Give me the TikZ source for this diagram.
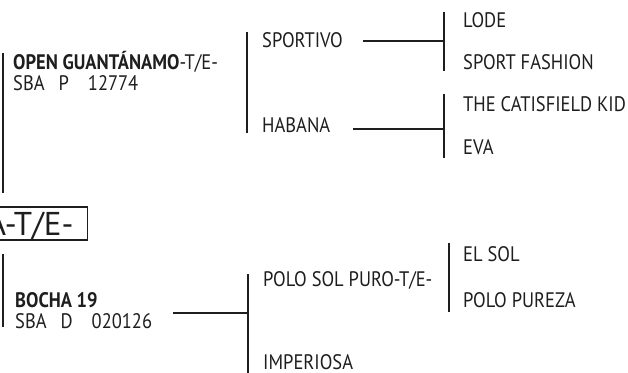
\documentclass[tikz,border=0pt]{standalone}
\usepackage{fontspec}
\setmainfont{PT Sans}[FakeStretch=0.88]
\newfontfamily\rootfont{PT Sans}
\definecolor{ink}{HTML}{1E1E1E}
\tikzset{
  ln/.style={draw=ink, line width=1.1pt},
  lbl/.style={anchor=base west, inner sep=0pt, text=ink, font=\fontsize{21}{23}\selectfont},
  lblb/.style={lbl, font=\fontsize{21}{23}\selectfont\bfseries},
  rootbox/.style={draw=ink, line width=1.1pt, anchor=base east, inner xsep=0pt, inner ysep=5pt,
    text height=23pt, text depth=0pt, text=ink, font=\rootfont\fontsize{33}{36}\selectfont}
}
\begin{document}
\begin{tikzpicture}[x=1pt,y=-1pt]
\useasboundingbox (0,0) rectangle (628,372);
% root
\node[rootbox] (root) at (88,235) {\hspace*{20pt}A-T/E-\hspace*{14pt}};
% upper branch
\node[lblb] (og) at (13,69.5) {OPEN GUANTÁNAMO\mdseries-T/E-};
\node[lbl] (ogid) at (13,90.7) {SBA\hspace{14pt}P\hspace{19pt}12774};
\node[lbl] (sportivo) at (262,47) {SPORTIVO};
\node[lbl] (habana) at (262,132) {HABANA};
\node[lbl] (lode) at (463,27) {LODE};
\node[lbl] (sportfashion) at (463,69) {SPORT FASHION};
\node[lbl] (catisfield) at (463,111) {THE CATISFIELD KID};
\node[lbl] (eva) at (463,154) {EVA};
% lower branch
\node[lblb] (bocha) at (15,307) {BOCHA 19};
\node[lbl] (bochaid) at (15,328) {SBA\hspace{14pt}D\hspace{19pt}020126};
\node[lbl] (polosol) at (263,286) {POLO SOL PURO-T/E-};
\node[lbl] (imperiosa) at (263,369) {IMPERIOSA};
\node[lbl] (elsol) at (463,261) {EL SOL};
\node[lbl] (polopureza) at (463,307) {POLO PUREZA};
% connector end points
\coordinate (rU1) at (3,53);   \coordinate (rU2) at (3,193);
\coordinate (rL1) at (3,254);  \coordinate (rL2) at (3,327);
\coordinate (ogT) at (247,32); \coordinate (ogB) at (247,133);
\coordinate (spS) at (363,41); \coordinate (spE) at (444,41);
\coordinate (spT) at (444,12); \coordinate (spB) at (444,71);
\coordinate (haS) at (353,129); \coordinate (haE) at (444,129);
\coordinate (haT) at (444,94); \coordinate (haB) at (444,158);
\coordinate (boS) at (173,313); \coordinate (boE) at (248,313);
\coordinate (boT) at (248,274); \coordinate (boB) at (248,373);
\coordinate (psT) at (449,243); \coordinate (psB) at (449,312);
% connectors
\draw[ln] (rU1) -- (rU2);
\draw[ln] (rL1) -- (rL2);
\draw[ln] (ogT) -- (ogB);
\draw[ln] (spS) -- (spE);
\draw[ln] (spT) -- (spB);
\draw[ln] (haS) -- (haE);
\draw[ln] (haT) -- (haB);
\draw[ln] (boS) -- (boE);
\draw[ln] (boT) -- (boB);
\draw[ln] (psT) -- (psB);
\end{tikzpicture}
\end{document}
